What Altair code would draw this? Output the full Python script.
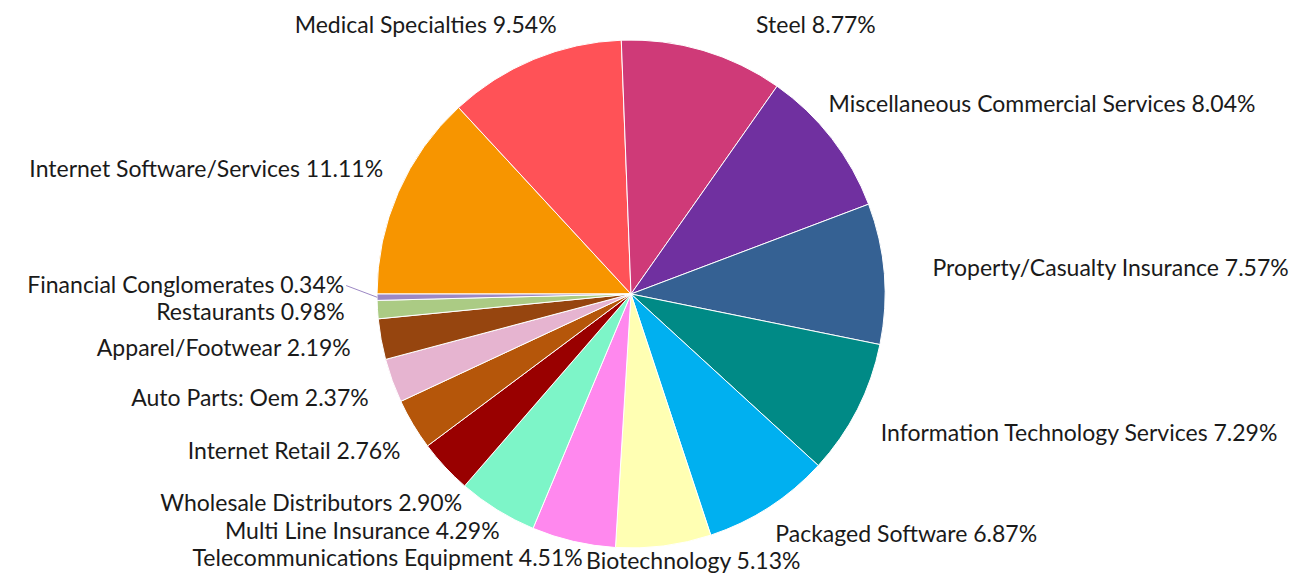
import math
import altair as alt
import pandas as pd

# ---- data ----
names = [
    "Internet Software/Services", "Medical Specialties", "Steel",
    "Miscellaneous Commercial Services", "Property/Casualty Insurance",
    "Information Technology Services", "Packaged Software", "Biotechnology",
    "Telecommunications Equipment", "Multi Line Insurance",
    "Wholesale Distributors", "Internet Retail", "Auto Parts: Oem",
    "Apparel/Footwear", "Restaurants", "Financial Conglomerates",
]
values = [11.11, 9.54, 8.77, 8.04, 7.57, 7.29, 6.87, 5.13, 4.51, 4.29,
          2.90, 2.76, 2.37, 2.19, 0.98, 0.34]
colors = [
    "#F79500", "#FF5257", "#CF3A78", "#7030A0", "#356193", "#008A86",
    "#00B0F0", "#FFFFB3", "#FF88EE", "#7DF5C8", "#990000", "#B5560A",
    "#E6B4D0", "#96450F", "#ABCB84", "#9C88C4",
]

# ---- style / layout constants ----
W, H = 1282, 568
CX, CY = 623, 286          # pie centre inside the plot area
R = 254                    # pie radius
LAB_CX = CX + 8            # centre used for label placement
R_LAB = 295                # label anchor radius
FS = 23
TH = 27
Y_MIN, Y_MAX = -268, 268   # label centre limits (relative to CY)
PAD = 3
STEP = 0.002
FONT = "Lato"

CW = {" ": .19, ".": .22, "%": .78, "/": .37, ":": .24}
for ch in "0123456789":
    CW[ch] = .58
CW.update(dict(zip("abcdefghijklmnopqrstuvwxyz",
                   [.50, .55, .45, .55, .51, .32, .49, .55, .23, .23, .49, .23, .83,
                    .55, .55, .55, .55, .36, .42, .35, .55, .50, .77, .48, .50, .45])))
CW.update(dict(zip("ABCDEFGHIJKLMNOPQRSTUVWXYZ",
                   [.68, .64, .67, .75, .56, .54, .72, .76, .28, .38, .67, .49, .90,
                    .76, .80, .60, .80, .62, .52, .58, .73, .68, 1.0, .66, .63, .62])))


def text_width(t):
    return sum(CW.get(ch, .52) for ch in t) * FS


labels = [f"{n} {v:.2f}%" for n, v in zip(names, values)]
n = len(names)
total = sum(values)
start = 1.5 * math.pi
mids, spans, cum = [], [], 0.0
for v in values:
    mids.append(start + (cum + v / 2) / total * 2 * math.pi)
    spans.append(v / total * 2 * math.pi)
    cum += v
widths = [text_width(t) for t in labels]
OFF = LAB_CX - CX


def geom(i, phi):
    """Label box (relative to pie centre) for label i anchored at angle phi."""
    w = widths[i]
    p = phi
    for _ in range(800):
        if -(R_LAB + TH / 2) * math.cos(p) >= Y_MIN:
            break
        p += STEP if math.sin(p) >= 0 else -STEP
    s, c = math.sin(p), math.cos(p)
    cx = (R_LAB + w / 2) * s + OFF
    cy = min(-(R_LAB + TH / 2) * c, Y_MAX)
    return (cx - w / 2, cx + w / 2, cy - TH / 2, cy + TH / 2, s)


def overlap(a, b):
    return a[0] < b[1] + PAD and b[0] < a[1] + PAD and a[2] < b[3] and b[2] < a[3]


def angdiff(a, b):
    return (a - b + math.pi) % (2 * math.pi) - math.pi


# place labels, the ones furthest from the horizontal axis first;
# a colliding label slides along the circle away from the label it hits
order = sorted(range(n), key=lambda i: -abs(math.cos(mids[i])))
boxes = [None] * n
placed = []
for i in order:
    phi = mids[i]
    b = geom(i, phi)
    for _ in range(3000):
        hits = [j for j in placed if overlap(b, boxes[j])]
        if not hits:
            break
        phi += STEP if angdiff(mids[i], mids[hits[0]]) > 0 else -STEP
        b = geom(i, phi)
    boxes[i] = b
    placed.append(i)

rows, lines = [], []
for i in range(n):
    x0, x1, y0, y1, s = boxes[i]
    cy = (y0 + y1) / 2
    right = s >= 0
    rows.append({"label": labels[i], "side": "R" if right else "L",
                 "lx": CX + (x0 if right else x1), "ly": CY + cy})
    if spans[i] < math.radians(2):   # hairline slice: point to it
        px, py = R * math.sin(mids[i]), -R * math.cos(mids[i])
        lines.append({"name": names[i], "ax": CX + (x0 if right else x1) + (-2 if right else 2),
                      "ay": CY + cy, "bx": CX + px, "by": CY + py})

df = pd.DataFrame({"name": names, "value": values, "rank": list(range(n))})
lab = pd.DataFrame(rows)
lin = pd.DataFrame(lines)

color_scale = alt.Scale(domain=names, range=colors)

pie = alt.Chart(df).mark_arc(radius=R, stroke="white", strokeWidth=1).encode(
    theta=alt.Theta("value:Q", stack=True,
                    scale=alt.Scale(range=[1.5 * math.pi, 3.5 * math.pi])),
    color=alt.Color("name:N", scale=color_scale, legend=None),
    order=alt.Order("rank:Q"),
    x=alt.value(CX), y=alt.value(CY),
)

txt_r = alt.Chart(lab).transform_filter(alt.datum.side == "R").mark_text(
    align="left", baseline="middle", font=FONT, fontSize=FS, color="#1a1a1a"
).encode(x=alt.X("lx:Q", scale=None), y=alt.Y("ly:Q", scale=None), text="label:N")

txt_l = alt.Chart(lab).transform_filter(alt.datum.side == "L").mark_text(
    align="right", baseline="middle", font=FONT, fontSize=FS, color="#1a1a1a"
).encode(x=alt.X("lx:Q", scale=None), y=alt.Y("ly:Q", scale=None), text="label:N")

layers = [pie, txt_r, txt_l]
if len(lin):
    rule = alt.Chart(lin).mark_rule(strokeWidth=1).encode(
        x=alt.X("ax:Q", scale=None), y=alt.Y("ay:Q", scale=None),
        x2="bx:Q", y2="by:Q",
        color=alt.Color("name:N", scale=color_scale, legend=None),
    )
    layers.append(rule)

chart = alt.layer(*layers).properties(
    width=W, height=H, padding=0,
    autosize=alt.AutoSizeParams(type="fit", contains="padding"),
    background="white",
).configure_view(stroke=None)

chart.save("out.html", embed_options={"renderer": "svg", "actions": False})
